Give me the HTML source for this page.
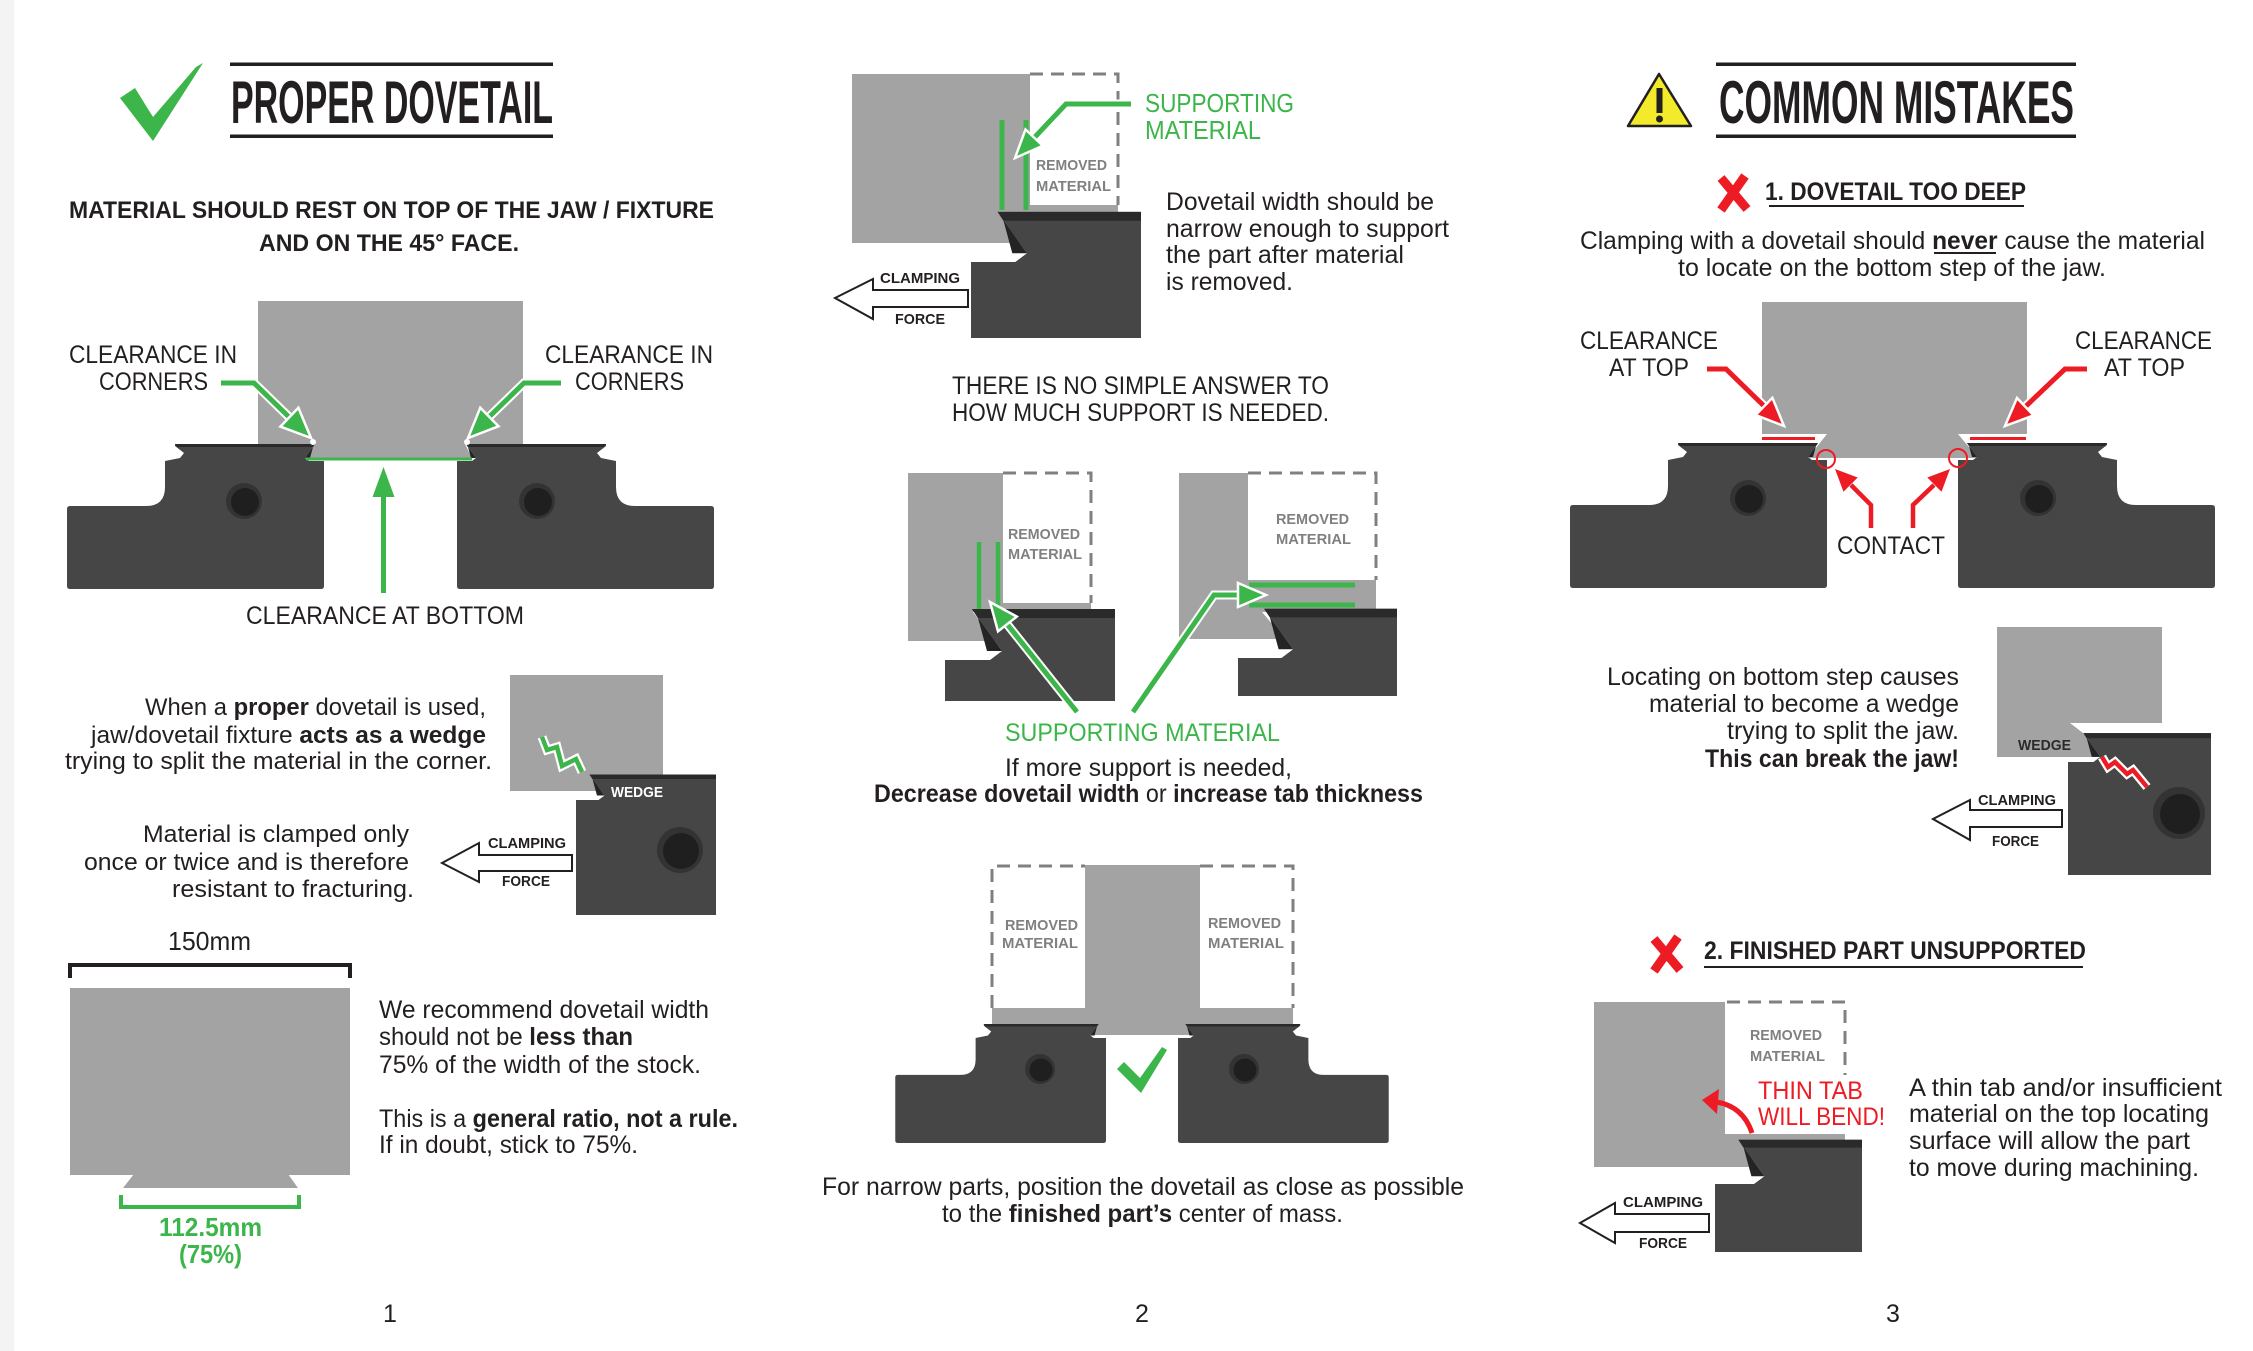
<!DOCTYPE html>
<html><head><meta charset="utf-8"><title>Dovetail Guide</title>
<style>html,body{margin:0;padding:0;background:#fff;width:2253px;height:1351px;overflow:hidden;}svg{display:block;position:absolute;left:0;top:0;}</style></head>
<body>
<svg xmlns="http://www.w3.org/2000/svg" width="2253" height="1351" viewBox="0 0 2253 1351">
<defs>
  <g id="jaw">
    <path d="M0,0 L0,125 Q0,128 -3,128 L-254,128 Q-257,128 -257,125 L-257,48 Q-257,45 -254,45 L-178,45 Q-159,45 -159,26 L-159,0 L-144,-3 L-140,-8 L-149,-15 L-149,-17 L-9,-17 L-19,-3 L-15,0 Z" fill="#464646"/>
    <path d="M-149,-17 L-9,-17 L-11,-14 L-147,-14 Z" fill="#2a2a2a"/>
    <path d="M-9,-17 L-19,-3 L-14,-3 L-11,-14 Z" fill="#242424"/>
  </g>
</defs>

<rect x="0" y="0" width="2253" height="1351" fill="#fff"/>
<rect x="0" y="0" width="14" height="1351" fill="#f3f3f3"/>

<g font-family="'Liberation Sans', Arial, sans-serif" fill="#231f20" lengthAdjust="spacingAndGlyphs">

<!-- ================= PANEL 1 ================= -->
<polygon points="120,98 135,88 153,117 196,67 203,63 153,141" fill="#3cb54a"/>
<rect x="230" y="62.5" width="323" height="3.5" fill="#231f20"/>
<rect x="230" y="134.5" width="323" height="3.5" fill="#231f20"/>
<text x="231" y="123" font-family="'Liberation Sans Narrow','Liberation Sans',Arial,sans-serif" font-weight="bold" font-size="60" textLength="322" lengthAdjust="spacingAndGlyphs">PROPER DOVETAIL</text>

<text x="69" y="218" font-weight="bold" font-size="24" textLength="645" lengthAdjust="spacingAndGlyphs">MATERIAL SHOULD REST ON TOP OF THE JAW / FIXTURE</text>
<text x="259" y="251" font-weight="bold" font-size="24" textLength="260" lengthAdjust="spacingAndGlyphs">AND ON THE 45° FACE.</text>

<!-- diagram 1 -->
<rect x="258" y="301" width="265" height="143" fill="#a3a3a4"/>
<polygon points="315,444 465,444 472,458 306,458" fill="#a3a3a4"/>
<use href="#jaw" transform="translate(324,461)"/>
<use href="#jaw" transform="translate(457,461) scale(-1,1)"/>
<circle cx="244" cy="501" r="18" fill="#333"/><circle cx="245" cy="502" r="14" fill="#1f1f1f"/>
<circle cx="537" cy="501" r="18" fill="#333"/><circle cx="538" cy="502" r="14" fill="#1f1f1f"/>
<circle cx="313" cy="442" r="3" fill="#fff"/><circle cx="467" cy="442" r="3" fill="#fff"/>
<line x1="306" y1="459" x2="472" y2="459" stroke="#3cb54a" stroke-width="3"/>
<polyline points="221,383 254,383 289,417" fill="none" stroke="#fff" stroke-width="9"/>
<polyline points="221,383 254,383 289,417" fill="none" stroke="#3cb54a" stroke-width="5"/>
<polygon points="311,438 280.4,426.6 298.4,407.8" fill="#3cb54a" stroke="#fff" stroke-width="2.5"/>
<polyline points="561,383 524,383 489,417" fill="none" stroke="#fff" stroke-width="9"/>
<polyline points="561,383 524,383 489,417" fill="none" stroke="#3cb54a" stroke-width="5"/>
<polygon points="468,438 480.3,407.7 498.5,426.3" fill="#3cb54a" stroke="#fff" stroke-width="2.5"/>
<line x1="383.5" y1="593" x2="383.5" y2="496" stroke="#3cb54a" stroke-width="5"/>
<polygon points="383.5,467 372.5,497 394.5,497" fill="#3cb54a"/>
<text x="69" y="363" font-size="25" textLength="168" lengthAdjust="spacingAndGlyphs">CLEARANCE IN</text>
<text x="99" y="390" font-size="25" textLength="109" lengthAdjust="spacingAndGlyphs">CORNERS</text>
<text x="545" y="363" font-size="25" textLength="168" lengthAdjust="spacingAndGlyphs">CLEARANCE IN</text>
<text x="575" y="390" font-size="25" textLength="109" lengthAdjust="spacingAndGlyphs">CORNERS</text>
<text x="246" y="624" font-size="25" textLength="278" lengthAdjust="spacingAndGlyphs">CLEARANCE AT BOTTOM</text>

<!-- wedge diagram panel 1 -->
<text x="145" y="715" font-size="24.5" textLength="341" lengthAdjust="spacingAndGlyphs">When a <tspan font-weight="bold">proper</tspan> dovetail is used,</text>
<text x="91" y="743" font-size="24.5" textLength="395" lengthAdjust="spacingAndGlyphs">jaw/dovetail fixture <tspan font-weight="bold">acts as a wedge</tspan></text>
<text x="65" y="769" font-size="24.5" textLength="427" lengthAdjust="spacingAndGlyphs">trying to split the material in the corner.</text>
<text x="143" y="842" font-size="24.5" textLength="266" lengthAdjust="spacingAndGlyphs">Material is clamped only</text>
<text x="84" y="870" font-size="24.5" textLength="325" lengthAdjust="spacingAndGlyphs">once or twice and is therefore</text>
<text x="172" y="897" font-size="24.5" textLength="242" lengthAdjust="spacingAndGlyphs">resistant to fracturing.</text>

<rect x="510" y="675" width="153" height="116" fill="#a3a3a4"/>
<polygon points="576,800 598.5,800 604.5,795.5 589.5,774.5 716,774.5 716,915 576,915" fill="#464646"/>
<polygon points="589.5,774.5 716,774.5 716,779 592.5,779" fill="#2a2a2a"/>
<polygon points="589.5,774.5 604.5,795.5 597,795.5 592.5,779" fill="#242424"/>
<circle cx="680" cy="850" r="23" fill="#333"/><circle cx="681" cy="851" r="18" fill="#1f1f1f"/>
<polyline points="542,737 547,750 557,747 562,766 576,759 582,772" fill="none" stroke="#fff" stroke-width="9" stroke-linejoin="miter"/>
<polyline points="542,737 547,750 557,747 562,766 576,759 582,772" fill="none" stroke="#3cb54a" stroke-width="4.5" stroke-linejoin="miter"/>
<text x="611" y="797" font-weight="bold" font-size="15" fill="#fff" textLength="52" lengthAdjust="spacingAndGlyphs">WEDGE</text>
<polygon points="442,863 479,843 479,855 572,855 572,871 479,871 479,882" fill="#fff" stroke="#231f20" stroke-width="2"/>
<text x="488" y="848" font-weight="bold" font-size="15" textLength="78" lengthAdjust="spacingAndGlyphs">CLAMPING</text>
<text x="502" y="886" font-weight="bold" font-size="15" textLength="48" lengthAdjust="spacingAndGlyphs">FORCE</text>

<!-- 150mm -->
<text x="168" y="950" font-size="26" textLength="83" lengthAdjust="spacingAndGlyphs">150mm</text>
<path d="M70,978 L70,965 L350,965 L350,978" fill="none" stroke="#231f20" stroke-width="4"/>
<rect x="70" y="988" width="280" height="187" fill="#a3a3a4"/>
<polygon points="134,1174 288,1174 298,1188 123,1188" fill="#a3a3a4"/>
<path d="M121,1195 L121,1207 L299,1207 L299,1195" fill="none" stroke="#3cb54a" stroke-width="4"/>
<text x="159" y="1236" font-weight="bold" font-size="26" fill="#3cb54a" textLength="103" lengthAdjust="spacingAndGlyphs">112.5mm</text>
<text x="179" y="1263" font-weight="bold" font-size="26" fill="#3cb54a" textLength="63" lengthAdjust="spacingAndGlyphs">(75%)</text>
<text x="379" y="1018" font-size="25" textLength="330" lengthAdjust="spacingAndGlyphs">We recommend dovetail width</text>
<text x="379" y="1045" font-size="25" textLength="254" lengthAdjust="spacingAndGlyphs">should not be <tspan font-weight="bold">less than</tspan></text>
<text x="379" y="1073" font-size="25" textLength="322" lengthAdjust="spacingAndGlyphs">75% of the width of the stock.</text>
<text x="379" y="1127" font-size="25" textLength="359" lengthAdjust="spacingAndGlyphs">This is a <tspan font-weight="bold">general ratio, not a rule.</tspan></text>
<text x="379" y="1153" font-size="25" textLength="259" lengthAdjust="spacingAndGlyphs">If in doubt, stick to 75%.</text>
<text x="390" y="1322" font-size="25" text-anchor="middle">1</text>

<!-- ================= PANEL 2 ================= -->
<polygon points="852,74 1030,74 1030,205 1118,205 1118,215 1000,215 1020,243 852,243" fill="#a3a3a4"/>
<path d="M1030,74 L1118,74 L1118,205" fill="none" stroke="#808080" stroke-width="3" stroke-dasharray="13,8"/>
<polygon points="971,262 1015.3,262 1027,253.2 997.6,211.9 1141,211.9 1141,338 971,338" fill="#464646"/>
<polygon points="997.6,211.9 1141,211.9 1141,220.7 1003.5,220.7" fill="#2a2a2a"/>
<polygon points="997.6,211.9 1027,253.2 1012.3,253.2 1003.5,220.7" fill="#242424"/>
<line x1="1002" y1="120" x2="1002" y2="210" stroke="#3cb54a" stroke-width="5"/>
<line x1="1026" y1="120" x2="1026" y2="210" stroke="#3cb54a" stroke-width="5"/>
<polyline points="1131,104 1066,104 1034,138" fill="none" stroke="#fff" stroke-width="9"/>
<polyline points="1131,104 1066,104 1034,138" fill="none" stroke="#3cb54a" stroke-width="5"/>
<polygon points="1015,158 1025.5,129.4 1042.9,145.8" fill="#3cb54a" stroke="#fff" stroke-width="2.5"/>
<text x="1036" y="170" font-weight="bold" font-size="15" fill="#808080" textLength="71" lengthAdjust="spacingAndGlyphs">REMOVED</text>
<text x="1036" y="191" font-weight="bold" font-size="15" fill="#808080" textLength="75" lengthAdjust="spacingAndGlyphs">MATERIAL</text>
<text x="1145" y="112" font-size="26" fill="#3cb54a" textLength="149" lengthAdjust="spacingAndGlyphs">SUPPORTING</text>
<text x="1145" y="139" font-size="26" fill="#3cb54a" textLength="116" lengthAdjust="spacingAndGlyphs">MATERIAL</text>
<text x="1166" y="210" font-size="25" textLength="268" lengthAdjust="spacingAndGlyphs">Dovetail width should be</text>
<text x="1166" y="237" font-size="25" textLength="283" lengthAdjust="spacingAndGlyphs">narrow enough to support</text>
<text x="1166" y="263" font-size="25" textLength="238" lengthAdjust="spacingAndGlyphs">the part after material</text>
<text x="1166" y="290" font-size="25" textLength="127" lengthAdjust="spacingAndGlyphs">is removed.</text>
<polygon points="835,298 873,279 873,290 968,290 968,307 873,307 873,319" fill="#fff" stroke="#231f20" stroke-width="2"/>
<text x="880" y="283" font-weight="bold" font-size="15" textLength="80" lengthAdjust="spacingAndGlyphs">CLAMPING</text>
<text x="895" y="324" font-weight="bold" font-size="15" textLength="50" lengthAdjust="spacingAndGlyphs">FORCE</text>

<text x="952" y="394" font-size="25" textLength="377" lengthAdjust="spacingAndGlyphs">THERE IS NO SIMPLE ANSWER TO</text>
<text x="952" y="421" font-size="25" textLength="377" lengthAdjust="spacingAndGlyphs">HOW MUCH SUPPORT IS NEEDED.</text>

<!-- mid-left -->
<polygon points="908,473 1003,473 1003,603 1091,603 1091,612 973,612 995,641 908,641" fill="#a3a3a4"/>
<path d="M1003,473 L1091,473 L1091,603" fill="none" stroke="#808080" stroke-width="3" stroke-dasharray="13,8"/>
<polygon points="945,660 990,660 1002,651 972,609 1115,609 1115,701 945,701" fill="#464646"/>
<polygon points="972,609 1115,609 1115,618 978,618" fill="#2a2a2a"/>
<polygon points="972,609 1002,651 987,651 978,618" fill="#242424"/>
<line x1="979" y1="542" x2="979" y2="609" stroke="#3cb54a" stroke-width="4.5"/>
<line x1="998" y1="542" x2="998" y2="609" stroke="#3cb54a" stroke-width="4.5"/>
<text x="1008" y="539" font-weight="bold" font-size="15" fill="#808080" textLength="72" lengthAdjust="spacingAndGlyphs">REMOVED</text>
<text x="1008" y="559" font-weight="bold" font-size="15" fill="#808080" textLength="74" lengthAdjust="spacingAndGlyphs">MATERIAL</text>
<line x1="1077" y1="712" x2="1007" y2="624" stroke="#fff" stroke-width="9"/>
<line x1="1077" y1="712" x2="1007" y2="624" stroke="#3cb54a" stroke-width="5"/>
<polygon points="990,602 1016.8,616.6 998,631.4" fill="#3cb54a" stroke="#fff" stroke-width="2.5"/>

<!-- mid-right -->
<polygon points="1179,473 1248,473 1248,580 1376,580 1376,612 1262,612 1285,639 1179,639" fill="#a3a3a4"/>
<path d="M1248,473 L1376,473 L1376,580" fill="none" stroke="#808080" stroke-width="3" stroke-dasharray="13,8"/>
<polygon points="1238,658 1281.5,658 1293.1,649.3 1264.1,608.7 1397,608.7 1397,696 1238,696" fill="#464646"/>
<polygon points="1264.1,608.7 1397,608.7 1397,617.4 1269.9,617.4" fill="#2a2a2a"/>
<polygon points="1264.1,608.7 1293.1,649.3 1278.6,649.3 1269.9,617.4" fill="#242424"/>
<line x1="1249" y1="585" x2="1355" y2="585" stroke="#3cb54a" stroke-width="5"/>
<line x1="1249" y1="605" x2="1355" y2="605" stroke="#3cb54a" stroke-width="5"/>
<text x="1276" y="524" font-weight="bold" font-size="15" fill="#808080" textLength="73" lengthAdjust="spacingAndGlyphs">REMOVED</text>
<text x="1276" y="544" font-weight="bold" font-size="15" fill="#808080" textLength="75" lengthAdjust="spacingAndGlyphs">MATERIAL</text>
<polyline points="1133,712 1214,595 1238,595" fill="none" stroke="#fff" stroke-width="9"/>
<polyline points="1133,712 1214,595 1238,595" fill="none" stroke="#3cb54a" stroke-width="5"/>
<polygon points="1266,595 1238,583 1238,607" fill="#3cb54a" stroke="#fff" stroke-width="2.5"/>

<text x="1005" y="741" font-size="25" fill="#3cb54a" textLength="275" lengthAdjust="spacingAndGlyphs">SUPPORTING MATERIAL</text>
<text x="1005" y="776" font-size="25" textLength="287" lengthAdjust="spacingAndGlyphs">If more support is needed,</text>
<text x="874" y="802" font-size="25" textLength="549" lengthAdjust="spacingAndGlyphs"><tspan font-weight="bold">Decrease dovetail width</tspan> or <tspan font-weight="bold">increase tab thickness</tspan></text>

<!-- bottom diagram panel 2 -->
<path d="M992,1008 L992,866 L1085,866 M1200,866 L1293,866 L1293,1008" fill="none" stroke="#808080" stroke-width="3" stroke-dasharray="13,8"/>
<polygon points="1085,865 1200,865 1200,1008 1293,1008 1293,1024 1189,1024 1195,1035 1091,1035 1097,1024 992,1024 992,1008 1085,1008" fill="#a3a3a4"/>
<use href="#jaw" transform="translate(1106,1038) scale(0.82)"/>
<use href="#jaw" transform="translate(1178,1038) scale(-0.82,0.82)"/>
<circle cx="1040" cy="1069" r="15" fill="#333"/><circle cx="1041" cy="1070" r="11.5" fill="#1f1f1f"/>
<circle cx="1244" cy="1069" r="15" fill="#333"/><circle cx="1245" cy="1070" r="11.5" fill="#1f1f1f"/>
<text x="1005" y="930" font-weight="bold" font-size="15" fill="#808080" textLength="73" lengthAdjust="spacingAndGlyphs">REMOVED</text>
<text x="1002" y="948" font-weight="bold" font-size="15" fill="#808080" textLength="76" lengthAdjust="spacingAndGlyphs">MATERIAL</text>
<text x="1208" y="928" font-weight="bold" font-size="15" fill="#808080" textLength="73" lengthAdjust="spacingAndGlyphs">REMOVED</text>
<text x="1208" y="948" font-weight="bold" font-size="15" fill="#808080" textLength="76" lengthAdjust="spacingAndGlyphs">MATERIAL</text>
<polygon points="1117,1069 1124,1062 1140,1078 1162,1047 1167,1050 1141,1093" fill="#3cb54a"/>
<text x="822" y="1195" font-size="25" textLength="642" lengthAdjust="spacingAndGlyphs">For narrow parts, position the dovetail as close as possible</text>
<text x="942" y="1222" font-size="25" textLength="401" lengthAdjust="spacingAndGlyphs">to the <tspan font-weight="bold">finished part’s</tspan> center of mass.</text>
<text x="1142" y="1322" font-size="25" text-anchor="middle">2</text>

<!-- ================= PANEL 3 ================= -->
<polygon points="1659,74 1628,126 1691,126" fill="#f2ea2a" stroke="#231f20" stroke-width="2.5" stroke-linejoin="round"/>
<rect x="1656.5" y="88" width="6" height="25" fill="#231f20"/>
<circle cx="1659.5" cy="119" r="3.5" fill="#231f20"/>
<rect x="1716" y="62.5" width="360" height="3.5" fill="#231f20"/>
<rect x="1716" y="134.5" width="360" height="3.5" fill="#231f20"/>
<text x="1719" y="123" font-family="'Liberation Sans Narrow','Liberation Sans',Arial,sans-serif" font-weight="bold" font-size="60" textLength="355" lengthAdjust="spacingAndGlyphs">COMMON MISTAKES</text>

<line x1="1721" y1="178" x2="1747" y2="209" stroke="#ed1c24" stroke-width="9"/>
<line x1="1745" y1="176" x2="1721" y2="210" stroke="#ed1c24" stroke-width="9"/>
<text x="1765" y="200" font-weight="bold" font-size="25" textLength="261" lengthAdjust="spacingAndGlyphs">1. DOVETAIL TOO DEEP</text>
<line x1="1769" y1="206" x2="2024" y2="206" stroke="#231f20" stroke-width="2"/>
<text x="1580" y="249" font-size="25" textLength="625" lengthAdjust="spacingAndGlyphs">Clamping with a dovetail should <tspan font-weight="bold">never</tspan> cause the material</text>
<line x1="1934" y1="253" x2="1996" y2="253" stroke="#231f20" stroke-width="2"/>
<text x="1678" y="276" font-size="25" textLength="428" lengthAdjust="spacingAndGlyphs">to locate on the bottom step of the jaw.</text>

<!-- too deep diagram -->
<rect x="1762" y="302" width="265" height="132" fill="#a3a3a4"/>
<polygon points="1827,434 1958,434 1978,458 1808,458" fill="#a3a3a4"/>
<use href="#jaw" transform="translate(1827,460)"/>
<use href="#jaw" transform="translate(1958,460) scale(-1,1)"/>
<circle cx="1748" cy="498" r="18" fill="#333"/><circle cx="1749" cy="499" r="14" fill="#1f1f1f"/>
<circle cx="2038" cy="498" r="18" fill="#333"/><circle cx="2039" cy="499" r="14" fill="#1f1f1f"/>
<line x1="1762" y1="438.5" x2="1815" y2="438.5" stroke="#ed1c24" stroke-width="3"/>
<line x1="1970" y1="438.5" x2="2026" y2="438.5" stroke="#ed1c24" stroke-width="3"/>
<circle cx="1826" cy="459" r="9" fill="none" stroke="#ed1c24" stroke-width="2"/>
<circle cx="1958" cy="458" r="9" fill="none" stroke="#ed1c24" stroke-width="2"/>
<polyline points="1707,369 1726,369 1764,406" fill="none" stroke="#fff" stroke-width="9"/>
<polyline points="1707,369 1726,369 1764,406" fill="none" stroke="#ed1c24" stroke-width="5"/>
<polygon points="1784,426 1755.6,415 1772.4,397.8" fill="#ed1c24" stroke="#fff" stroke-width="2.5"/>
<polyline points="2087,369 2065,369 2025,407" fill="none" stroke="#fff" stroke-width="9"/>
<polyline points="2087,369 2065,369 2025,407" fill="none" stroke="#ed1c24" stroke-width="5"/>
<polygon points="2005,426 2017,398 2033.6,415.4" fill="#ed1c24" stroke="#fff" stroke-width="2.5"/>
<polyline points="1871,528 1871,505 1851,485" fill="none" stroke="#ed1c24" stroke-width="4.5"/>
<polygon points="1835,469 1857.7,477.5 1843.5,491.7" fill="#ed1c24"/>
<polyline points="1913,528 1913,505 1934,485" fill="none" stroke="#ed1c24" stroke-width="4.5"/>
<polygon points="1950,469 1941.5,491.7 1927.3,477.5" fill="#ed1c24"/>
<text x="1580" y="349" font-size="25" textLength="138" lengthAdjust="spacingAndGlyphs">CLEARANCE</text>
<text x="1609" y="376" font-size="25" textLength="80" lengthAdjust="spacingAndGlyphs">AT TOP</text>
<text x="2075" y="349" font-size="25" textLength="137" lengthAdjust="spacingAndGlyphs">CLEARANCE</text>
<text x="2104" y="376" font-size="25" textLength="81" lengthAdjust="spacingAndGlyphs">AT TOP</text>
<text x="1837" y="554" font-size="25" textLength="108" lengthAdjust="spacingAndGlyphs">CONTACT</text>

<!-- wedge panel 3 -->
<text x="1607" y="685" font-size="25" textLength="352" lengthAdjust="spacingAndGlyphs">Locating on bottom step causes</text>
<text x="1649" y="712" font-size="25" textLength="310" lengthAdjust="spacingAndGlyphs">material to become a wedge</text>
<text x="1727" y="739" font-size="25" textLength="232" lengthAdjust="spacingAndGlyphs">trying to split the jaw.</text>
<text x="1705" y="767" font-size="25" font-weight="bold" textLength="254" lengthAdjust="spacingAndGlyphs">This can break the jaw!</text>
<polygon points="1997,627 2162,627 2162,723 2070,723 2083,733 2100,757 1997,757" fill="#a3a3a4"/>
<polygon points="2068,762 2093.5,762 2100.3,756.9 2083.3,733.1 2211,733.1 2211,875 2068,875" fill="#464646"/>
<polygon points="2083.3,733.1 2211,733.1 2211,738.2 2086.7,738.2" fill="#2a2a2a"/>
<polygon points="2083.3,733.1 2100.3,756.9 2091.8,756.9 2086.7,738.2" fill="#242424"/>
<circle cx="2179" cy="813" r="26" fill="#333"/><circle cx="2180" cy="814" r="20" fill="#1f1f1f"/>
<text x="2018" y="750" font-weight="bold" font-size="15" fill="#2b2b2b" textLength="53" lengthAdjust="spacingAndGlyphs">WEDGE</text>
<polyline points="2102,757 2108,767 2115,762 2127,774 2133,770 2147,787" fill="none" stroke="#fff" stroke-width="9"/>
<polyline points="2102,757 2108,767 2115,762 2127,774 2133,770 2147,787" fill="none" stroke="#ed1c24" stroke-width="4.5"/>
<polygon points="1933,819 1970,800 1970,810 2062,810 2062,827 1970,827 1970,840" fill="#fff" stroke="#231f20" stroke-width="2"/>
<text x="1978" y="805" font-weight="bold" font-size="15" textLength="78" lengthAdjust="spacingAndGlyphs">CLAMPING</text>
<text x="1992" y="846" font-weight="bold" font-size="15" textLength="47" lengthAdjust="spacingAndGlyphs">FORCE</text>

<!-- 2. finished part unsupported -->
<line x1="1654" y1="939" x2="1680" y2="970" stroke="#ed1c24" stroke-width="9"/>
<line x1="1678" y1="937" x2="1654" y2="971" stroke="#ed1c24" stroke-width="9"/>
<text x="1704" y="959" font-weight="bold" font-size="25" textLength="382" lengthAdjust="spacingAndGlyphs">2. FINISHED PART UNSUPPORTED</text>
<line x1="1704" y1="967" x2="2083" y2="967" stroke="#231f20" stroke-width="2"/>

<polygon points="1594,1002 1725,1002 1725,1134 1845,1134 1845,1142 1745,1142 1756,1167 1594,1167" fill="#a3a3a4"/>
<path d="M1727,1002 L1845,1002 L1845,1075" fill="none" stroke="#808080" stroke-width="3" stroke-dasharray="13,8"/>
<polygon points="1715,1184 1754,1184 1764.4,1176.2 1738.4,1139.8 1862,1139.8 1862,1252 1715,1252" fill="#464646"/>
<polygon points="1738.4,1139.8 1862,1139.8 1862,1147.6 1743.6,1147.6" fill="#2a2a2a"/>
<polygon points="1738.4,1139.8 1764.4,1176.2 1751.4,1176.2 1743.6,1147.6" fill="#242424"/>
<text x="1750" y="1040" font-weight="bold" font-size="15" fill="#808080" textLength="72" lengthAdjust="spacingAndGlyphs">REMOVED</text>
<text x="1750" y="1061" font-weight="bold" font-size="15" fill="#808080" textLength="75" lengthAdjust="spacingAndGlyphs">MATERIAL</text>
<text x="1758" y="1099" font-size="25" fill="#ed1c24" textLength="105" lengthAdjust="spacingAndGlyphs">THIN TAB</text>
<text x="1758" y="1125" font-size="25" fill="#ed1c24" textLength="127" lengthAdjust="spacingAndGlyphs">WILL BEND!</text>
<path d="M1752,1133 Q1743,1106 1716,1102" fill="none" stroke="#ed1c24" stroke-width="5"/>
<polygon points="1702,1100 1719,1089 1717,1114" fill="#ed1c24"/>
<text x="1909" y="1096" font-size="25" textLength="313" lengthAdjust="spacingAndGlyphs">A thin tab and/or insufficient</text>
<text x="1909" y="1122" font-size="25" textLength="300" lengthAdjust="spacingAndGlyphs">material on the top locating</text>
<text x="1909" y="1149" font-size="25" textLength="281" lengthAdjust="spacingAndGlyphs">surface will allow the part</text>
<text x="1909" y="1176" font-size="25" textLength="290" lengthAdjust="spacingAndGlyphs">to move during machining.</text>
<polygon points="1580,1223 1615,1203 1615,1214 1709,1214 1709,1232 1615,1232 1615,1243" fill="#fff" stroke="#231f20" stroke-width="2"/>
<text x="1623" y="1207" font-weight="bold" font-size="15" textLength="80" lengthAdjust="spacingAndGlyphs">CLAMPING</text>
<text x="1639" y="1248" font-weight="bold" font-size="15" textLength="48" lengthAdjust="spacingAndGlyphs">FORCE</text>
<text x="1893" y="1322" font-size="25" text-anchor="middle">3</text>

</g>
</svg>
</body></html>
